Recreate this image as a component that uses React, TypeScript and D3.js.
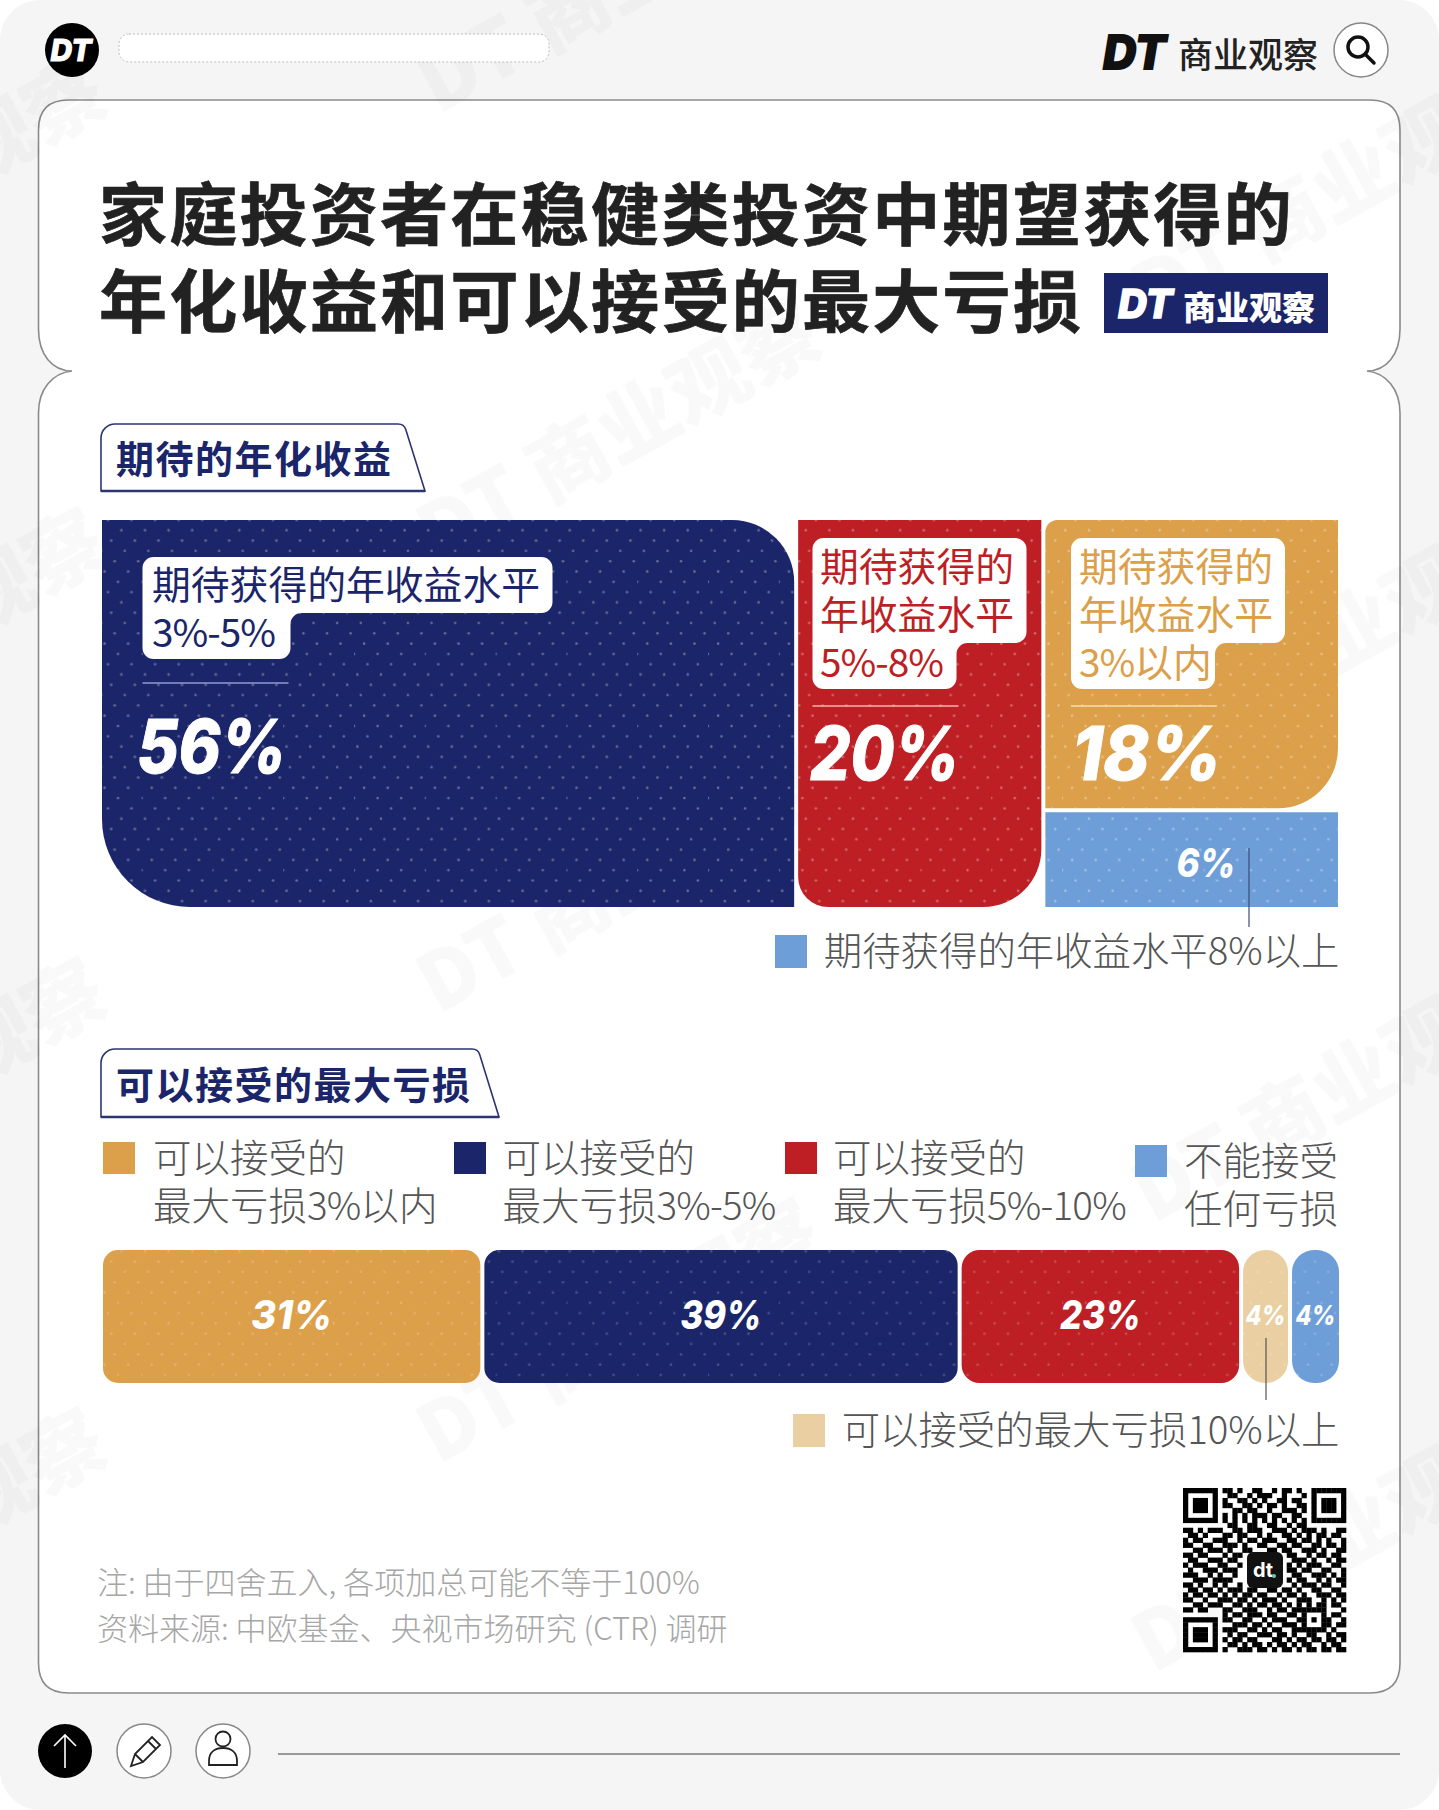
import React from 'react';
import * as d3 from 'd3';

// 期待的年化收益
const expectLabels = [
  ['期待获得的年收益水平', '3%-5%'],
  ['期待获得的', '年收益水平', '5%-8%'],
  ['期待获得的', '年收益水平', '3%以内'],
];
const expectValues = [56, 20, 18, 6];
const expectOtherLegend = '期待获得的年收益水平8%以上';

// 可以接受的最大亏损
const lossValues = [31, 39, 23, 4, 4];
const lossLegends = [
  ['可以接受的', '最大亏损3%以内'],
  ['可以接受的', '最大亏损3%-5%'],
  ['可以接受的', '最大亏损5%-10%'],
  ['不能接受', '任何亏损'],
];
const lossOtherLegend = '可以接受的最大亏损10%以上';

const titleLines = ['家庭投资者在稳健类投资中期望获得的', '年化收益和可以接受的最大亏损'];
const sectionTitles = ['期待的年化收益', '可以接受的最大亏损'];
const notes = ['注: 由于四舍五入, 各项加总可能不等于100%', '资料来源: 中欧基金、央视市场研究 (CTR) 调研'];

const qrRows = [
  '111111101101001100101101001111111',
  '100000100110010111001000101000001',
  '101110101001101010011011001011101',
  '101110101100110101101001101011101',
  '101110100011011001001110101011101',
  '100000101010101110110011001000001',
  '111111101010101010101010101111111',
  '000000000110011001100101100000000',
  '110101110011011100111010111010011',
  '011010001101100101001101010110110',
  '101100111001011011100110110101001',
  '110011001110100110011011001101101',
  '001101110100110001101100111010011',
  '110110001011000000000110010110110',
  '011001110110000000000011101001011',
  '101110011001000000000101011100110',
  '010011101110000000000110110011001',
  '111001010010000000000011001110101',
  '001110111100000000000101100101011',
  '110100101001000000000010111011001',
  '011011010111011001101101001100110',
  '101101101010110110010110100111011',
  '110010011101101011101001110010101',
  '001101110011010110110101010110110',
  '110110001100111001011011111110001',
  '000000001011011101100110100010110',
  '111111101100110010111001101011001',
  '100000100011101101001110100011011',
  '101110101110011010110011111110100',
  '101110100101100111011010011001011',
  '101110101011011000110101101101101',
  '100000100110101101011010110010110',
  '111111101001110110101101011011011',
];

const NAVY = '#1b2569';
const RED = '#bd1f25';
const GOLD = '#dc9f4a';
const BLUE = '#6d9ed8';
const PALE = '#e9cfa2';
const INK = '#222222';
const CJK = '"Noto Sans CJK SC", "Noto Sans", sans-serif';
const NUM = 'Inter, Lato, sans-serif';

const width = 1439;
const height = 1810;

// 圆角矩形 [tl, tr, br, bl]
function cornerRect(x0: number, y0: number, x1: number, y1: number, r: number[]) {
  const p = d3.path();
  p.moveTo(x0 + r[0], y0);
  p.lineTo(x1 - r[1], y0);
  p.arcTo(x1, y0, x1, y0 + r[1], r[1]);
  p.lineTo(x1, y1 - r[2]);
  p.arcTo(x1, y1, x1 - r[2], y1, r[2]);
  p.lineTo(x0 + r[3], y1);
  p.arcTo(x0, y1, x0, y1 - r[3], r[3]);
  p.lineTo(x0, y0 + r[0]);
  p.arcTo(x0, y0, x0 + r[0], y0, r[0]);
  p.closePath();
  return p.toString();
}

function roundPoly(pts: number[][]) {
  const p = d3.path();
  const n = pts.length;
  const first = pts[0];
  const last = pts[n - 1];
  p.moveTo((first[0] + last[0]) / 2, (first[1] + last[1]) / 2);
  for (let i = 0; i < n; i++) {
    const a = pts[i];
    const b = pts[(i + 1) % n];
    p.arcTo(a[0], a[1], (a[0] + b[0]) / 2, (a[1] + b[1]) / 2, a[2] ?? 0);
  }
  p.closePath();
  return p.toString();
}

function callout(x: number, y: number, w: number, h: number, w2: number, h2: number) {
  const r = 11;
  return roundPoly([
    [x, y, r],
    [x + w, y, r],
    [x + w, y + h, r],
    [x + w2, y + h, r],
    [x + w2, y + h2, r],
    [x, y + h2, r],
  ]);
}

const pageCard = () => {
  const l = 38.5;
  const r = 1400;
  const t = 100;
  const b = 1693;
  const nY = 371;
  const tip = 72;
  const p = d3.path();
  p.moveTo(l + 30, t);
  p.lineTo(r - 30, t);
  p.quadraticCurveTo(r, t, r, t + 30);
  p.lineTo(r, nY - 42);
  p.bezierCurveTo(r, nY - 16, r - 14, nY, width - tip, nY);
  p.bezierCurveTo(r - 14, nY + 2, r, nY + 18, r, nY + 42);
  p.lineTo(r, b - 30);
  p.quadraticCurveTo(r, b, r - 30, b);
  p.lineTo(l + 30, b);
  p.quadraticCurveTo(l, b, l, b - 30);
  p.lineTo(l, nY + 42);
  p.bezierCurveTo(l, nY + 18, l + 14, nY + 2, tip, nY);
  p.bezierCurveTo(l + 14, nY, l, nY - 16, l, nY - 42);
  p.lineTo(l, t + 30);
  p.quadraticCurveTo(l, t, l + 30, t);
  p.closePath();
  return p.toString();
};

// 数字部分收紧一点
const tight = (t: string, ls: number) =>
  t.split(/([0-9%\-]+)/).map((s, i) =>
    i % 2 ? (
      <tspan key={i} letterSpacing={ls}>
        {s}
      </tspan>
    ) : (
      s
    ),
  );

const Text = ({ x, y, size, fill, weight = 400, anchor = 'start', spacing = 0, family = CJK, stroke, children }: any) => (
  <text
    x={x}
    y={y - 3}
    fontSize={size}
    fill={fill}
    stroke={stroke}
    strokeWidth={stroke ? 0.7 : 0}
    fontWeight={weight}
    textAnchor={anchor}
    letterSpacing={spacing}
    fontFamily={family}
    dominantBaseline="central"
  >
    {children}
  </text>
);

const Num = ({ x, y, size, fill = '#fff', anchor = 'start', heavy = 0, fit, children }: any) => (
  <text
    x={x}
    y={y}
    fontSize={size}
    fill={fill}
    stroke={heavy ? fill : undefined}
    strokeWidth={heavy}
    fontWeight={800}
    fontStyle="italic"
    textAnchor={anchor}
    fontFamily={NUM}
    textLength={fit}
    lengthAdjust={fit ? 'spacingAndGlyphs' : undefined}
  >
    {children}
  </text>
);

// 百分比数字的宽度，按字号比例压到和原图一样
const pctFit = (v: number, size: number) => size * (v >= 10 ? 2.02 : 1.48);

const App: React.FC = () => {
  // 上方矩形树图
  const xExpect = d3.scaleLinear().domain([0, 100]).range([102, 1338]);
  const expectEdges = [0, ...d3.cumsum(expectValues.slice(0, 2)), 100];
  const yTop = 520;
  const yBottom = 907;
  const yRight = d3
    .scaleLinear()
    .domain([0, expectValues[2] + expectValues[3]])
    .range([yTop, yBottom]);
  const gap = 2;

  const navyPath = cornerRect(xExpect(expectEdges[0]), yTop, xExpect(expectEdges[1]), yBottom, [0, 62, 0, 88]);
  const redPath = cornerRect(xExpect(expectEdges[1]) + 2 * gap, yTop, xExpect(expectEdges[2]), yBottom, [0, 0, 58, 30]);
  const goldPath = cornerRect(xExpect(expectEdges[2]) + 2 * gap, yTop, xExpect(100), yRight(expectValues[2]) - gap, [12, 0, 60, 0]);
  const bluePath = cornerRect(xExpect(expectEdges[2]) + 2 * gap, yRight(expectValues[2]) + gap, xExpect(100), yBottom, [0, 0, 0, 0]);

  // 下方堆叠条
  const xLoss = d3.scaleLinear().domain([0, d3.sum(lossValues)]).range([103, 1339]);
  const lossEdges = [0, ...d3.cumsum(lossValues)];
  const lossColors = [GOLD, NAVY, RED, PALE, BLUE];
  const lossRadius = [15, 15, 18, 22, 22];
  const barTop = 1250;
  const barBottom = 1383;

  const qrScale = d3.scaleBand<number>().domain(d3.range(33)).range([1183, 1346]);
  const qrScaleY = d3.scaleBand<number>().domain(d3.range(33)).range([1488, 1652]);

  const legendX = [103, 454, 785, 1135];
  const legendY = [1142, 1142, 1142, 1145];
  const legendTextX = [153, 502.5, 833, 1184];
  const legendColors = [GOLD, NAVY, RED, BLUE];

  const callouts = [
    { x: 142.5, y: 557, w: 410, h: 56, w2: 148, h2: 102, tx: 152, ty: 585, fill: NAVY, line: '#8f9ad6', numX: 137, numY: 773, lineY: 683 },
    { x: 812.5, y: 538, w: 214, h: 105, w2: 144, h2: 151, tx: 820, ty: 567, fill: RED, line: '#f1b9a9', numX: 810, numY: 780, lineY: 706 },
    { x: 1071, y: 538, w: 214, h: 105, w2: 144, h2: 151, tx: 1079, ty: 567, fill: GOLD, line: '#f7dcb0', numX: 1072, numY: 780, lineY: 706 },
  ];

  // 波点：每行错开一点
  const dotCols = d3.range(3);
  const dotRows = d3.range(7);

  return (
    <svg
      width={width}
      height={height}
      viewBox={`0 0 ${width} ${height}`}
      style={{ position: 'absolute', left: 0, top: 0, display: 'block', background: '#fff' }}
    >
      <defs>
        <pattern id="dots" width={70.8} height={72.1} patternUnits="userSpaceOnUse">
          {dotRows.map((r) =>
            dotCols.map((c) => (
              <circle
                key={`${r}-${c}`}
                cx={(c * 23.6 + r * 13.486) % 70.8}
                cy={r * 10.3 + 5}
                r={1.3}
                fill="#fff"
                opacity={0.33}
              />
            )),
          )}
        </pattern>
      </defs>

      <rect x={0} y={0} width={width} height={height} rx={40} fill="#f5f5f5" />
      <path d={pageCard()} fill="#fff" stroke="#8a8a8a" strokeWidth={1.6} />

      {/* 水印 */}
      {[-277, 438, 1153].map((x, c) =>
        d3.range(4).map((k) => {
          const y = (c === 1 ? 115 : 324) + k * 450;
          return (
            <text
              key={`${c}-${k}`}
              transform={`translate(${x},${y}) rotate(-29)`}
              fontSize={80}
              fontWeight={900}
              fontFamily={CJK}
              fill="#000"
              opacity={0.018}
            >
              DT 商业观察
            </text>
          );
        }),
      )}

      {/* 页眉 */}
      <circle cx={72} cy={50} r={27} fill="#000" />
      <Num x={71} y={61} size={30} anchor="middle" heavy={1}>DT</Num>
      <rect x={119} y={34} width={430} height={28} rx={10} fill="#fff" stroke="#bbb" strokeDasharray="2 2" />
      <Num x={1103} y={69} size={46} fill="#111" heavy={2}>DT</Num>
      <Text x={1178} y={55} size={35} fill={INK} weight={500}>商业观察</Text>
      <circle cx={1361} cy={50} r={27} fill="#fff" stroke="#888" strokeWidth={1.5} />
      <circle cx={1358} cy={47} r={10} fill="none" stroke="#111" strokeWidth={3.5} />
      <line x1={1365} y1={54} x2={1374} y2={63} stroke="#111" strokeWidth={3.5} strokeLinecap="round" />

      {/* 标题 */}
      {titleLines.map((t, i) => (
        <Text key={t} x={99} y={213 + i * 87} size={68} fill={INK} stroke={INK} weight={700} spacing={2.3}>
          {t}
        </Text>
      ))}
      <rect x={1104} y={273} width={224} height={60} fill={NAVY} />
      <Num x={1118} y={318} size={40} heavy={1.5}>DT</Num>
      <Text x={1183} y={309} size={33} fill="#fff" weight={900}>商业观察</Text>

      {/* 小标题 */}
      {[
        { x: 101, y: 424, y2: 491, top: 404, right: 425 },
        { x: 101, y: 1049, y2: 1117, top: 478, right: 499 },
      ].map((b, i) => (
        <g key={i}>
          <path
            d={roundPoly([
              [b.x, b.y2, 0],
              [b.x, b.y, 14],
              [b.top, b.y, 8],
              [b.right, b.y2, 0],
            ])}
            fill="#fff"
            stroke="#2d3570"
            strokeWidth={1.6}
          />
          <line x1={b.x} x2={b.right} y1={b.y2} y2={b.y2} stroke="#2d3570" strokeWidth={2.5} />
          <Text x={b.x + 15} y={(b.y + b.y2) / 2 + 2} size={38} fill={NAVY} weight={700} spacing={1.5}>
            {sectionTitles[i]}
          </Text>
        </g>
      ))}

      {/* 期待的年化收益 */}
      {[
        { d: navyPath, fill: NAVY },
        { d: redPath, fill: RED },
        { d: goldPath, fill: GOLD },
        { d: bluePath, fill: BLUE },
      ].map((m) => (
        <g key={m.fill}>
          <path d={m.d} fill={m.fill} />
          <path d={m.d} fill="url(#dots)" />
        </g>
      ))}
      {callouts.map((c, i) => (
        <g key={i}>
          <path d={callout(c.x, c.y, c.w, c.h, c.w2, c.h2)} fill="#fff" />
          {expectLabels[i].map((t, j) => (
            <Text key={j} x={c.tx} y={c.ty + j * 48} size={38.8} fill={c.fill}>
              {tight(t, -1)}
            </Text>
          ))}
          <line x1={c.x} x2={c.x + 146} y1={c.lineY} y2={c.lineY} stroke={c.line} strokeWidth={1.5} />
          <Num x={c.numX} y={c.numY} size={74} heavy={1} fit={pctFit(expectValues[i], 74)}>
            {`${expectValues[i]}%`}
          </Num>
        </g>
      ))}
      <Num x={1206} y={877} size={40} anchor="middle" fit={pctFit(expectValues[3], 40)}>
        {`${expectValues[3]}%`}
      </Num>
      <line x1={1249} x2={1249} y1={848} y2={927} stroke="#3c4a78" strokeWidth={1.2} />
      <rect x={775} y={935} width={32} height={33} fill={BLUE} />
      <Text x={1339.5} y={951} size={38.4} fill="#555" weight={300} anchor="end">
        {expectOtherLegend}
      </Text>

      {/* 可以接受的最大亏损 */}
      {lossLegends.map((lines, i) => (
        <g key={i}>
          <rect x={legendX[i]} y={legendY[i]} width={32} height={32} fill={legendColors[i]} />
          {lines.map((t, j) => (
            <Text key={j} x={legendTextX[i]} y={legendY[i] + 16 + j * 48} size={38.5} fill="#555" weight={300}>
              {tight(t, -0.8)}
            </Text>
          ))}
        </g>
      ))}
      {lossValues.map((v, i) => {
        const x0 = xLoss(lossEdges[i]) + (i === 0 ? 0 : gap);
        const x1 = xLoss(lossEdges[i + 1]) - (i === lossValues.length - 1 ? 0 : gap);
        const r = lossRadius[i];
        const d = cornerRect(x0, barTop, x1, barBottom, [r, r, r, r]);
        const small = i > 2;
        const size = small ? 27 : 40;
        return (
          <g key={i}>
            <path d={d} fill={lossColors[i]} />
            <path d={d} fill="url(#dots)" opacity={0.6} />
            <Num x={(x0 + x1) / 2} y={small ? 1325 : 1329} size={size} anchor="middle" fit={pctFit(v, size)}>
              {`${v}%`}
            </Num>
          </g>
        );
      })}
      <line x1={1266} x2={1266} y1={1338} y2={1400} stroke="#555" strokeWidth={1.2} />
      <rect x={793} y={1414} width={32} height={33} fill={PALE} />
      <Text x={1339.5} y={1430} size={38.4} fill="#555" weight={300} anchor="end">
        {lossOtherLegend}
      </Text>

      {/* 脚注 */}
      {notes.map((t, i) => (
        <Text key={t} x={97} y={1583 + i * 46} size={31} fill="#a6a6a6" weight={300}>
          {t}
        </Text>
      ))}

      {/* 二维码 */}
      {qrRows.map((row, r) =>
        row.split('').map((c, k) =>
          c === '1' ? (
            <rect
              key={`${r}-${k}`}
              x={qrScale(k)!}
              y={qrScaleY(r)!}
              width={qrScale.bandwidth() + 0.3}
              height={qrScaleY.bandwidth() + 0.3}
              fill="#000"
            />
          ) : null,
        ),
      )}
      <rect x={1247} y={1552} width={36} height={36} rx={6} fill="#111" />
      <text x={1263} y={1577} fontSize={20} fontWeight={700} fill="#fff" textAnchor="middle" fontFamily="Inter, sans-serif">
        dt
      </text>
      <circle cx={1274} cy={1576} r={2} fill="#6fc7b8" />

      {/* 底部图标 */}
      <circle cx={65} cy={1751} r={27} fill="#000" />
      <path d="M65 1768V1735M54 1746L65 1735L76 1746" fill="none" stroke="#fff" strokeWidth={1.6} />
      <circle cx={144} cy={1751} r={27} fill="#fff" stroke="#888" strokeWidth={1.5} />
      <path d="M131 1766l4-12 17-17 8 8-17 17zM135 1754l8 8M148 1741l8 8" fill="none" stroke="#222" strokeWidth={1.8} />
      <circle cx={223} cy={1751} r={27} fill="#fff" stroke="#888" strokeWidth={1.5} />
      <circle cx={223} cy={1739} r={7.5} fill="none" stroke="#222" strokeWidth={1.8} />
      <path d="M209 1765v-4c0-9 6-13 14-13s14 4 14 13v4z" fill="none" stroke="#222" strokeWidth={1.8} />
      <line x1={278} x2={1400} y1={1754} y2={1754} stroke="#999" strokeWidth={2} />
    </svg>
  );
};

export default App;
